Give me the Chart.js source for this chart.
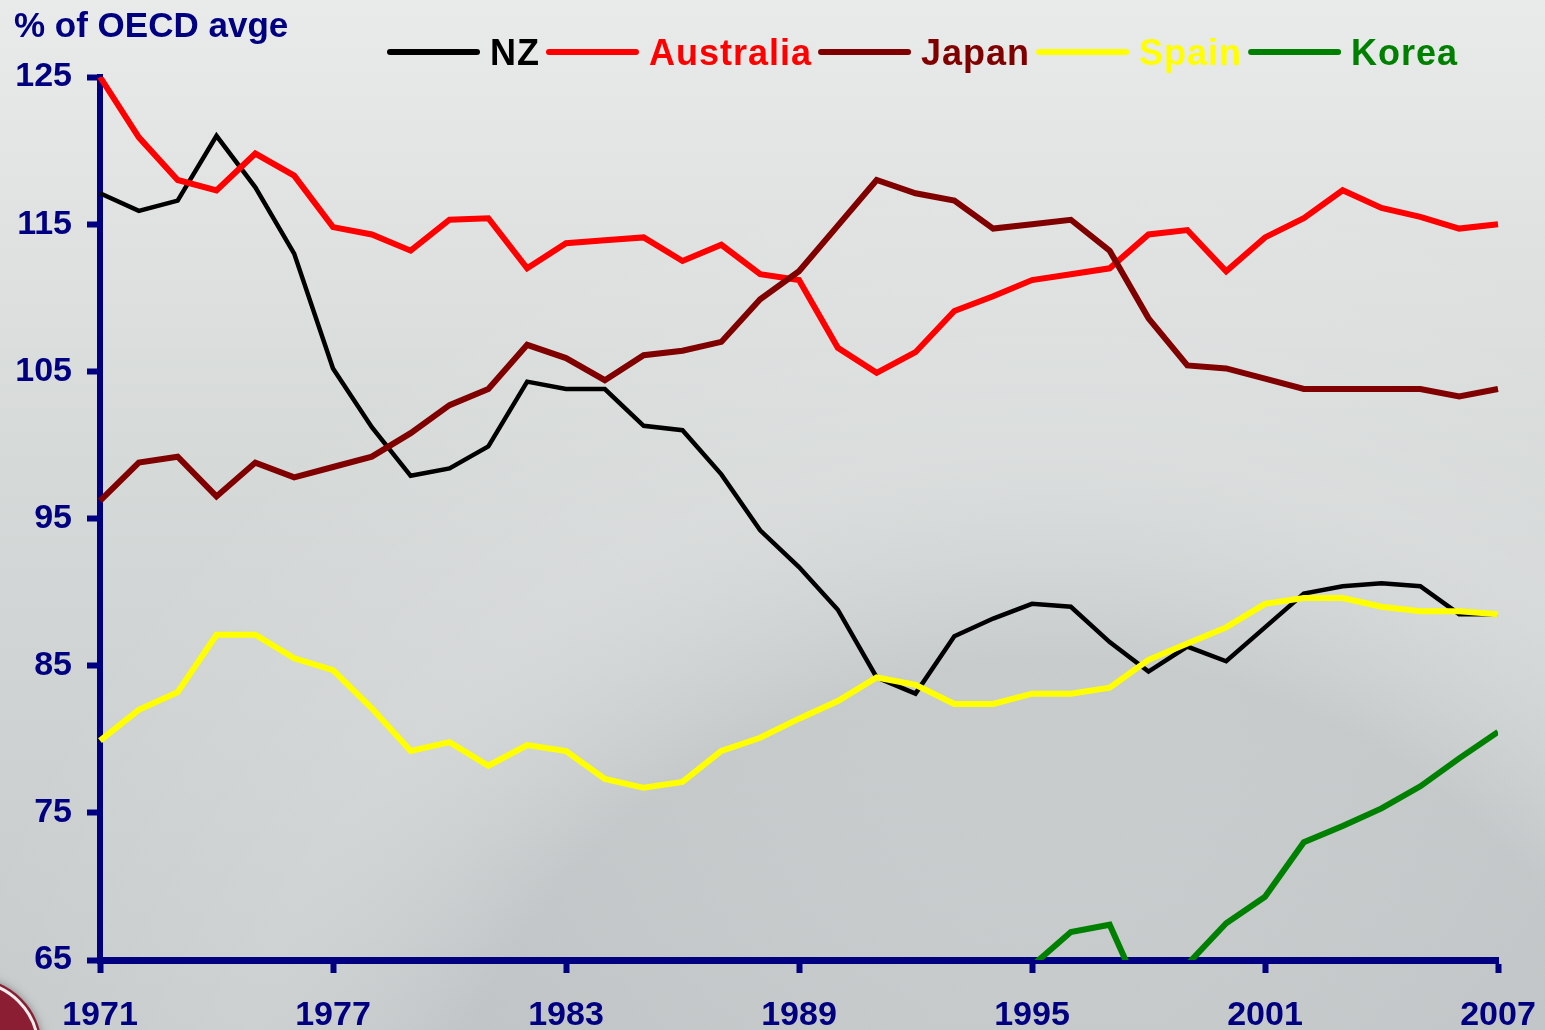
<!DOCTYPE html>
<html>
<head>
  <title>% of OECD avge</title>
  <script src="https://cdn.jsdelivr.net/npm/chart.js"></script>
  <style>
    html, body { margin: 0; padding: 0; background: #d6d9d9; }
    #wrap { width: 1545px; height: 1030px; }
  </style>
</head>
<body>
  <div id="wrap"><canvas id="lineChart" width="1545" height="1030"></canvas></div>

  <script>
    // years on the x axis
    const years = [1971, 1972, 1973, 1974, 1975, 1976, 1977, 1978, 1979, 1980,
                   1981, 1982, 1983, 1984, 1985, 1986, 1987, 1988, 1989, 1990,
                   1991, 1992, 1993, 1994, 1995, 1996, 1997, 1998, 1999, 2000,
                   2001, 2002, 2003, 2004, 2005, 2006, 2007];

    const nz = [117.1, 115.9, 116.6, 121.0, 117.5, 113.0, 105.2, 101.2, 97.9, 98.4,
                99.9, 104.3, 103.8, 103.8, 101.3, 101.0, 98.0, 94.2, 91.7, 88.8,
                84.2, 83.1, 87.0, 88.2, 89.2, 89.0, 86.6, 84.6, 86.3, 85.3,
                87.6, 89.9, 90.4, 90.6, 90.4, 88.5, 88.5];
    const australia = [125.0, 120.9, 118.0, 117.3, 119.8, 118.3, 114.8, 114.3, 113.2, 115.3,
                       115.4, 112.0, 113.7, 113.9, 114.1, 112.5, 113.6, 111.6, 111.2, 106.6,
                       104.9, 106.3, 109.1, 110.1, 111.2, 111.6, 112.0, 114.3, 114.6, 111.8,
                       114.1, 115.4, 117.3, 116.1, 115.5, 114.7, 115.0];
    const japan = [96.2, 98.8, 99.2, 96.5, 98.8, 97.8, 98.5, 99.2, 100.8, 102.7,
                   103.8, 106.8, 105.9, 104.4, 106.1, 106.4, 107.0, 109.9, 111.8, 114.9,
                   118.0, 117.1, 116.6, 114.7, 115.0, 115.3, 113.2, 108.6, 105.4, 105.2,
                   104.5, 103.8, 103.8, 103.8, 103.8, 103.3, 103.8];
    const spain = [79.9, 82.0, 83.2, 87.1, 87.1, 85.5, 84.7, 82.1, 79.2, 79.8,
                   78.2, 79.6, 79.2, 77.3, 76.7, 77.1, 79.2, 80.1, 81.4, 82.6,
                   84.2, 83.7, 82.4, 82.4, 83.1, 83.1, 83.5, 85.4, 86.5, 87.6,
                   89.2, 89.6, 89.6, 89.0, 88.7, 88.7, 88.5];
    // Korea sits below the axis floor for most years (off the chart)
    const korea = [null, null, null, null, null, null, null, null, null, null,
                   null, null, null, null, null, null, null, null, null, null,
                   null, null, null, null, 64.6, 66.9, 67.4, 61.5, 64.7, 67.5,
                   69.3, 73.0, 74.1, 75.3, 76.8, 78.7, 80.5];

    const yTicks = [65, 75, 85, 95, 105, 115, 125];

    const navy = '#000080';
    const font = { family: '"Liberation Sans", Arial, sans-serif', size: 34, weight: 'bold' };

    // grey slide background + bit of the logo in the corner
    const backdrop = {
      id: 'backdrop',
      beforeDraw(chart) {
        const c = chart.ctx, w = chart.width, h = chart.height;
        c.save();
        const g = c.createLinearGradient(0, 0, 0, h);
        g.addColorStop(0, '#e9ebea');
        g.addColorStop(0.45, '#d5d9d8');
        g.addColorStop(1, '#c6cacb');
        c.fillStyle = g;
        c.fillRect(0, 0, w, h);
        const r = c.createRadialGradient(1050, 1300, 300, 1050, 1300, 1150);
        r.addColorStop(0, 'rgba(175,180,184,0.0)');
        r.addColorStop(0.4, 'rgba(175,180,184,0.25)');
        r.addColorStop(0.65, 'rgba(255,255,255,0.12)');
        r.addColorStop(1, 'rgba(255,255,255,0)');
        c.fillStyle = r;
        c.fillRect(0, 0, w, h);
        c.shadowColor = 'rgba(0,0,0,0.35)';
        c.shadowBlur = 8;
        c.beginPath();
        c.arc(-28, 1048, 70, 0, Math.PI * 2);
        c.fillStyle = '#8b1e32';
        c.fill();
        c.shadowColor = 'transparent';
        c.lineWidth = 3;
        c.strokeStyle = '#f0eeee';
        c.beginPath();
        c.arc(-28, 1048, 66, 0, Math.PI * 2);
        c.stroke();
        c.restore();
      }
    };

    // axis caption and legend across the top
    const topText = {
      id: 'topText',
      afterDraw(chart) {
        const c = chart.ctx;
        c.save();
        c.font = 'bold 35px "Liberation Sans", Arial, sans-serif';
        c.textBaseline = 'alphabetic';
        c.textAlign = 'left';
        c.fillStyle = navy;
        c.fillText('% of OECD avge', 14, 37);

        c.font = 'bold 36px "Liberation Sans", Arial, sans-serif';
        c.letterSpacing = '1px';
        let x = 390;
        const y = 52;
        chart.data.datasets.forEach(ds => {
          c.beginPath();
          c.moveTo(x, y);
          c.lineTo(x + 87, y);
          c.lineWidth = 6;
          c.lineCap = 'round';
          c.strokeStyle = ds.borderColor;
          c.stroke();
          c.fillStyle = ds.borderColor;
          c.fillText(ds.label, x + 100, y + 13);
          x += 100 + c.measureText(ds.label).width + 9;
        });
        c.restore();
      }
    };

    new Chart(document.getElementById('lineChart'), {
      type: 'line',
      data: {
        labels: years,
        datasets: [
          { label: 'NZ', data: nz, borderColor: '#000000', borderWidth: 4.5, order: 5 },
          { label: 'Australia', data: australia, borderColor: '#ff0000', borderWidth: 6, order: 4 },
          { label: 'Japan', data: japan, borderColor: '#800000', borderWidth: 6, order: 3 },
          { label: 'Spain', data: spain, borderColor: '#ffff00', borderWidth: 6, order: 2 },
          { label: 'Korea', data: korea, borderColor: '#008000', borderWidth: 6, order: 1, clip: 0 }
        ]
      },
      options: {
        responsive: false,
        animation: false,
        layout: { padding: { left: 0, right: 47, top: 77, bottom: 0 } },
        elements: {
          point: { radius: 0 },
          line: { tension: 0, borderJoinStyle: 'miter', spanGaps: false }
        },
        plugins: {
          legend: { display: false },
          tooltip: { enabled: false }
        },
        scales: {
          x: {
            z: 1,
            offset: false,
            border: { color: navy, width: 7 },
            grid: {
              drawOnChartArea: false,
              drawTicks: true,
              tickLength: 13,
              tickWidth: 6,
              tickColor: ctx => (ctx.index % 6 === 0 ? navy : 'rgba(0,0,0,0)')
            },
            ticks: {
              autoSkip: false,
              maxRotation: 0,
              padding: 22,
              color: navy,
              font: font,
              callback: (v, i) => (i % 6 === 0 ? String(years[i]) : '')
            },
            afterFit: s => { s.height = 70; s.paddingLeft = 0; s.paddingRight = 0; }
          },
          y: {
            z: 1,
            min: 65,
            max: 125,
            border: { color: navy, width: 6 },
            grid: {
              drawOnChartArea: false,
              drawTicks: true,
              tickLength: 13,
              tickWidth: 6,
              tickColor: navy
            },
            afterBuildTicks: s => { s.ticks = yTicks.map(v => ({ value: v })); },
            ticks: {
              padding: 15,
              color: navy,
              font: font
            },
            afterFit: s => { s.width = 100; }
          }
        }
      },
      plugins: [backdrop, topText]
    });
  </script>
</body>
</html>
